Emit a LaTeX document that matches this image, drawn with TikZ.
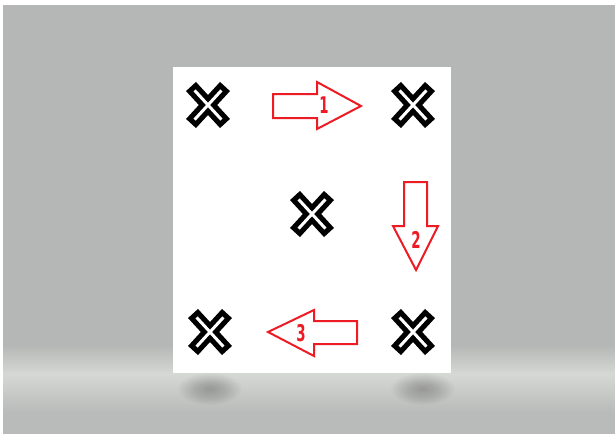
\documentclass[tikz,border=0pt]{standalone}
\usepackage{fontspec}
\setmainfont{Liberation Sans}
\newfontfamily\lblfont{DejaVu Sans}
\definecolor{bg}{HTML}{B5B7B6}
\definecolor{floorlight}{HTML}{D6D8D5}
\definecolor{floorlow}{HTML}{B9BBBA}
\definecolor{arrowred}{HTML}{ED1C24}
\tikzset{
  xmark/.style={inner sep=0, minimum width=46, minimum height=48},
  xouter/.style={line width=13.5, black},
  xinner/.style={line width=3, white},
  redarrow/.style={draw=arrowred, line width=2, fill=white, line join=miter},
  lbl/.style={text=arrowred, font=\lblfont\bfseries\fontsize{23}{23}\selectfont, xscale=0.58, inner sep=0},
  cardbox/.style={fill=white, inner sep=0, minimum width=278, minimum height=306}
}
\begin{document}
\begin{tikzpicture}[x=1pt,y=-1pt]
\useasboundingbox (0,0) rectangle (615,434);
% background
\fill[white] (0,0) rectangle (615,434);
\fill[bg] (3,5) rectangle (615,434);
\shade[top color=bg, bottom color=floorlight] (3,345) rectangle (615,374);
\shade[top color=floorlight, bottom color=floorlow] (3,374) rectangle (615,412);
\fill[floorlow] (3,412) rectangle (615,434);
% shadows under the card
\foreach \cx in {210,423}{
  \foreach \r in {1,...,20}{
    \fill[black, opacity=0.012] (\cx,389) ellipse [x radius=1.6*\r, y radius=0.8*\r];
  }
}
% card
\node[cardbox] (card) at (312,220) {};
% X marks
\node[xmark] (xtl) at (208,105) {};
\node[xmark] (xtr) at (413,105) {};
\node[xmark] (xc)  at (312,214) {};
\node[xmark] (xbl) at (210,332) {};
\node[xmark] (xbr) at (413,332) {};
\foreach \n in {xtl,xtr,xc,xbl,xbr}{
  \draw[xouter] ([shift={(-17,-18.5)}]\n.center) -- ([shift={(17,18.5)}]\n.center);
  \draw[xouter] ([shift={(-17,18.5)}]\n.center) -- ([shift={(17,-18.5)}]\n.center);
  \draw[xinner] ([shift={(-13.4,-14.6)}]\n.center) -- ([shift={(13.4,14.6)}]\n.center);
  \draw[xinner] ([shift={(-13.4,14.6)}]\n.center) -- ([shift={(13.4,-14.6)}]\n.center);
}
% arrow 1 (right)
\draw[redarrow] (273,94) -- (317,94) -- (317,82) -- (361,106) -- (317,129) -- (317,118) -- (273,118) -- cycle;
\node[lbl] (l1) at (324,105) {1};
% arrow 2 (down)
\draw[redarrow] (404,182) -- (427,182) -- (427,226) -- (438,226) -- (416,270) -- (393,226) -- (404,226) -- cycle;
\node[lbl] (l2) at (416,240) {2};
% arrow 3 (left)
\draw[redarrow] (357,321) -- (314,321) -- (314,310) -- (268,332) -- (314,356) -- (314,344) -- (357,344) -- cycle;
\node[lbl] (l3) at (301,333) {3};
\end{tikzpicture}
\end{document}
